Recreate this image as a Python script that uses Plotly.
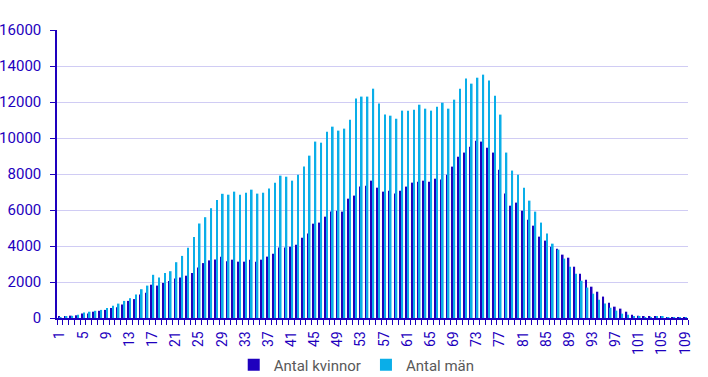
import plotly.graph_objects as go

ages = list(range(1, 110))

kvinnor = [
    60, 70, 130, 150, 250, 250, 350, 400, 450, 550,
    600, 750, 950, 1050, 1300, 1400, 1850, 1800, 1950, 2050,
    2200, 2250, 2350, 2500, 2800, 3050, 3200, 3250, 3400, 3150,
    3240, 3130, 3130, 3240, 3130, 3240, 3410, 3570, 3910, 3910,
    3960, 4070, 4460, 4690, 5240, 5300, 5630, 5910, 5960, 5910,
    6630, 6800, 7300, 7350, 7630, 7240, 7020, 7070, 6910, 7070,
    7300, 7520, 7570, 7630, 7570, 7740, 7690, 7960, 8410, 8960,
    9190, 9520, 9850, 9800, 9460, 9190, 8240, 6910, 6240, 6410,
    5960, 5460, 5130, 4520, 4300, 3960, 3850, 3520, 3350, 2850,
    2460, 2130, 1740, 1460, 1190, 850, 630, 520, 350, 185,
    130, 75, 75, 75, 75, 55, 40, 40, 55,
]

man = [
    50, 60, 120, 180, 300, 350, 400, 450, 550, 680,
    800, 950, 1100, 1300, 1600, 1800, 2400, 2250, 2500, 2600,
    3100, 3450, 3900, 4500, 5250, 5600, 6100, 6550, 6900, 6850,
    7020, 6850, 6960, 7130, 6910, 6960, 7190, 7520, 7910, 7850,
    7630, 7960, 8410, 9020, 9800, 9740, 10350, 10630, 10410, 10520,
    11020, 12190, 12300, 12300, 12740, 11910, 11300, 11240, 11070, 11520,
    11520, 11570, 11850, 11630, 11520, 11740, 11960, 11630, 12130, 12740,
    13300, 13020, 13350, 13520, 13190, 12350, 11300, 9190, 8190, 7960,
    7240, 6520, 5910, 5300, 4690, 4130, 3800, 3300, 2850, 2460,
    2070, 1690, 1350, 1020, 800, 570, 410, 240, 185, 75,
    75, 55, 55, 75, 75, 20, 15, 10, 10,
]

x_tick_vals = list(range(1, 110, 4))
y_tick_vals = [0, 2000, 4000, 6000, 8000, 10000, 12000, 14000, 16000]

DARK = "#1E00BE"
LIGHT = "#0AAEE8"
FONT = "Roboto"

fig = go.Figure()
fig.add_trace(go.Bar(x=ages, y=kvinnor, name="Antal kvinnor", marker=dict(color=DARK, line=dict(width=0))))
fig.add_trace(go.Bar(x=ages, y=man, name="Antal män", marker=dict(color=LIGHT, line=dict(width=0))))

fig.update_layout(
    width=708, height=377,
    margin=dict(l=57, r=20, t=30, b=59, autoexpand=False),
    paper_bgcolor="white", plot_bgcolor="white",
    barmode="group", bargap=0.43, bargroupgap=0,
    font=dict(family=FONT, size=15, color=DARK),
    showlegend=True,
    legend=dict(orientation="h", x=0.475, xanchor="center", yref="container", y=0.032, yanchor="middle",
                font=dict(family=FONT, size=15, color="#595959"), itemwidth=30,
                traceorder="normal"),
)

fig.update_xaxes(
    range=[0.5, 109.5], tickmode="array", tickvals=x_tick_vals, ticktext=[str(v) for v in x_tick_vals],
    tickangle=-90, tickfont=dict(family=FONT, size=14, color=DARK), automargin=False,
    ticks="", showgrid=False, showline=True, linecolor=DARK, linewidth=1.5,
    minor=dict(tickmode="linear", tick0=0.5, dtick=1, ticks="outside", ticklen=5, tickcolor=DARK, tickwidth=1, showgrid=False),
    ticklabelstandoff=6,
    zeroline=False, fixedrange=True,
)
fig.update_yaxes(
    range=[0, 16000], tickmode="array", tickvals=y_tick_vals, ticktext=[str(v) for v in y_tick_vals],
    tickfont=dict(family=FONT, size=15, color=DARK), automargin=False,
    ticks="outside", ticklen=5, tickcolor=DARK, tickwidth=1, ticklabelstandoff=6,
    showgrid=True, gridcolor="#D0CCF4", gridwidth=1,
    showline=True, linecolor=DARK, linewidth=1.5, zeroline=False, fixedrange=True,
)

fig.write_html("out.html", config={"displayModeBar": False},
               post_script="document.body.style.margin='0px';")
